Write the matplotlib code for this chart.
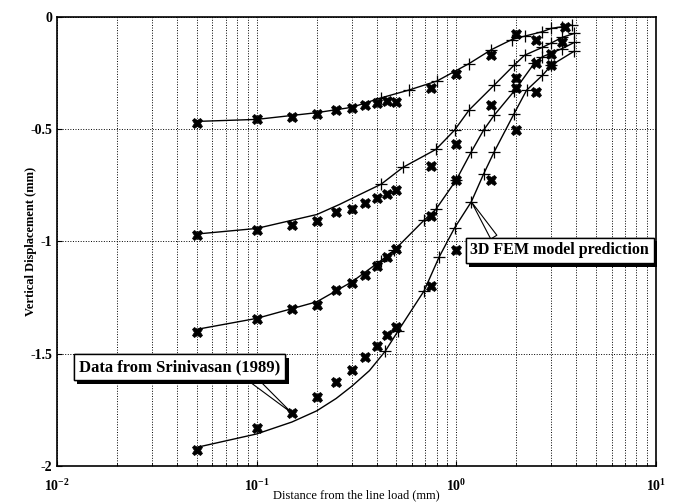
import numpy as np
import matplotlib
matplotlib.use('Agg')
import matplotlib.pyplot as plt
import matplotlib.patheffects as pe
from matplotlib.ticker import NullFormatter

plt.rcParams['font.family'] = ['Liberation Serif', 'DejaVu Serif']
plt.rcParams['mathtext.default'] = 'regular'

# measured data (x markers)
xa = [0.05, 0.1, 0.15, 0.2, 0.25, 0.3, 0.35, 0.4, 0.45, 0.5, 0.75, 1.0, 1.5, 2.0, 2.5, 3.5]
ya = [-0.47, -0.455, -0.445, -0.43, -0.415, -0.405, -0.39, -0.385, -0.375, -0.38, -0.315, -0.255, -0.17, -0.075, -0.10, -0.045]
xb = [0.05, 0.1, 0.15, 0.2, 0.25, 0.3, 0.35, 0.4, 0.45, 0.5, 0.75, 1.0, 1.5, 2.0, 3.4]
yb = [-0.97, -0.95, -0.925, -0.91, -0.87, -0.855, -0.83, -0.805, -0.79, -0.77, -0.665, -0.565, -0.39, -0.27, -0.11]
xc = [0.05, 0.1, 0.15, 0.2, 0.25, 0.3, 0.35, 0.4, 0.45, 0.5, 0.75, 1.0, 2.0, 2.5, 3.0]
yc = [-1.405, -1.345, -1.30, -1.285, -1.215, -1.185, -1.15, -1.11, -1.07, -1.035, -0.885, -0.725, -0.315, -0.205, -0.165]
xd = [0.05, 0.1, 0.15, 0.2, 0.25, 0.3, 0.35, 0.4, 0.45, 0.5, 0.75, 1.0, 1.5, 2.0, 2.5, 3.0]
yd = [-1.93, -1.83, -1.765, -1.695, -1.625, -1.575, -1.515, -1.465, -1.415, -1.38, -1.20, -1.04, -0.725, -0.505, -0.335, -0.215]

# FEM prediction (+ markers, solid line)
fa_x = [0.05, 0.1, 0.2, 0.3, 0.42, 0.58, 0.8, 1.16, 1.5, 1.9, 2.2, 2.7, 3.0, 3.4, 3.8]
fa_y = [-0.465, -0.456, -0.426, -0.402, -0.36, -0.325, -0.285, -0.207, -0.145, -0.10, -0.085, -0.065, -0.05, -0.043, -0.036]
fb_x = [0.05, 0.1, 0.2, 0.26, 0.33, 0.42, 0.54, 0.79, 0.98, 1.16, 1.55, 1.95, 2.2, 2.7, 3.0, 3.4, 3.9]
fb_y = [-0.967, -0.942, -0.88, -0.835, -0.79, -0.745, -0.67, -0.59, -0.504, -0.414, -0.303, -0.214, -0.17, -0.135, -0.115, -0.09, -0.073]
fc_x = [0.05, 0.1, 0.2, 0.3, 0.42, 0.49, 0.69, 0.79, 1.0, 1.19, 1.37, 1.55, 1.95, 2.46, 2.7, 3.4, 3.9]
fc_y = [-1.392, -1.343, -1.269, -1.18, -1.085, -1.038, -0.905, -0.857, -0.726, -0.60, -0.504, -0.437, -0.33, -0.206, -0.177, -0.14, -0.113]
fd_x = [0.05, 0.1, 0.15, 0.2, 0.25, 0.3, 0.367, 0.44, 0.51, 0.69, 0.82, 0.98, 1.19, 1.37, 1.55, 1.95, 2.25, 2.7, 3.0, 3.9]
fd_y = [-1.918, -1.858, -1.805, -1.755, -1.70, -1.645, -1.576, -1.49, -1.40, -1.22, -1.07, -0.94, -0.823, -0.70, -0.60, -0.43, -0.326, -0.26, -0.214, -0.152]

fig = plt.figure(figsize=(6.81, 5.03), dpi=100)
ax = fig.add_axes([0.084, 0.074, 0.879, 0.892])

for fx, fy in [(fa_x, fa_y), (fb_x, fb_y), (fc_x, fc_y), (fd_x, fd_y)]:
    show = [v >= 0.4 for v in fx]
    ax.plot(fx, fy, color='black', lw=1.0, marker='+', ms=9, mew=0.9, markevery=show)
for dx, dy in [(xa, ya), (xb, yb), (xc, yc), (xd, yd)]:
    ax.plot(dx, dy, ls='none', color='black', marker='X', ms=7.5, mew=0.5)

ax.set_xscale('log')
ax.set_xlim(0.01, 10)
ax.set_ylim(-2, 0)
ax.set_yticks([-2, -1.5, -1, -0.5, 0])
ax.set_yticklabels(['-2', '-1.5', '-1', '-0.5', '0'])
ax.xaxis.set_minor_formatter(NullFormatter())
ax.grid(True, which='both', axis='x', ls=':', color='black', lw=0.7)
ax.grid(True, which='major', axis='y', ls=':', color='black', lw=0.7)
ax.tick_params(which='both', direction='in', labelsize=10)
ax.tick_params(axis='x', pad=9)
for lab in ax.get_xticklabels() + ax.get_yticklabels():
    lab.set_fontweight('bold')
for s in ax.spines.values():
    s.set_linewidth(1.2)

ax.set_xlabel('Distance from the line load (mm)', fontsize=9)
ax.xaxis.set_label_coords(0.5, -0.053)
ax.set_ylabel('Vertical Displacement (mm)', fontsize=9, fontweight='bold')
ax.yaxis.set_label_coords(-0.034, 0.5)

box = dict(boxstyle='square,pad=0.3', fc='white', ec='black', lw=1.0)
shadow = [pe.withSimplePatchShadow(offset=(2.5, -2.5), shadow_rgbFace='black', alpha=1.0), pe.Normal()]

a1 = ax.annotate('3D FEM model prediction', xy=(fd_x[12], fd_y[12]), xytext=(3.3, -1.04),
                 fontsize=11.5, fontweight='bold', ha='center', va='center', bbox=box,
                 arrowprops=dict(arrowstyle='wedge,tail_width=0.45', fc='white', ec='black', lw=0.8,
                                 shrinkA=0, shrinkB=0, relpos=(0.15, 1.0)))
a2 = ax.annotate('Data from Srinivasan (1989)', xy=(xd[2], yd[2]), xytext=(0.041, -1.56),
                 fontsize=12, fontweight='bold', ha='center', va='center', bbox=box,
                 arrowprops=dict(arrowstyle='wedge,tail_width=0.45', fc='white', ec='black', lw=0.8,
                                 shrinkA=0, shrinkB=0, relpos=(0.84, 0.0)))
for a in (a1, a2):
    a.get_bbox_patch().set_path_effects(shadow)

fig.savefig('out.png', dpi=100)
